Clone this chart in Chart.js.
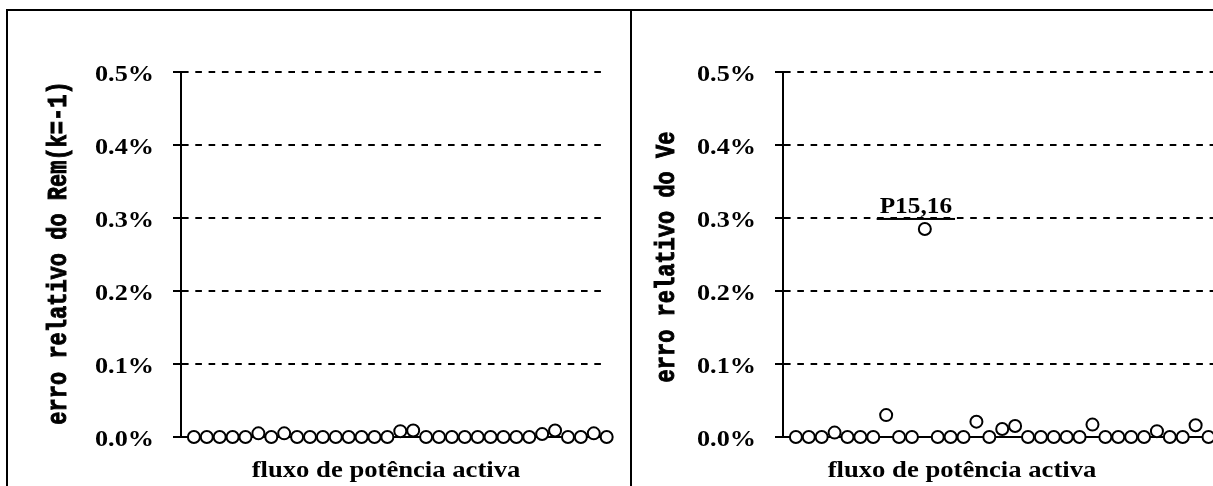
<!DOCTYPE html>
<html>
<head>
<meta charset="utf-8">
<script src="https://cdn.jsdelivr.net/npm/chart.js@4/dist/chart.umd.min.js"></script>
<style>
  html, body { margin: 0; padding: 0; background: #fff; overflow: hidden; }
  body { width: 1213px; height: 486px; position: relative; }
  #frame { position: absolute; left: 6px; top: 9px; width: 1400px; height: 600px; border: 2px solid #000; }
  #divider { position: absolute; left: 630px; top: 9px; width: 2px; height: 600px; background: #000; }
  .panel { position: absolute; top: 11px; height: 475px; }
  #panelRem { left: 8px; width: 622px; }
  #panelVe { left: 633px; width: 700px; }
</style>
</head>
<body>
<div id="frame"></div>
<div id="divider"></div>
<div class="panel" id="panelRem"><canvas id="chartRem"></canvas></div>
<div class="panel" id="panelVe"><canvas id="chartVe"></canvas></div>
<script>
// Branch (active power flow) positions along the x axis
const branchIndex = [1, 2, 3, 4, 5, 6, 7, 8, 9, 10, 11, 12, 13, 14, 15, 16, 17,
                     18, 19, 20, 21, 22, 23, 24, 25, 26, 27, 28, 29, 30, 31, 32, 33];

// Relative error (%) of Rem(k=-1) for each branch flow
const errRem = [0, 0, 0, 0, 0, 0.005, 0, 0.005, 0, 0, 0, 0, 0, 0, 0, 0, 0.008,
                0.009, 0, 0, 0, 0, 0, 0, 0, 0, 0, 0.004, 0.009, 0, 0, 0.005, 0];

// Relative error (%) of Ve for each branch flow
const errVe = [0, 0, 0, 0.006, 0, 0, 0, 0.030, 0, 0, 0.285, 0, 0, 0, 0.021, 0, 0.011,
               0.015, 0, 0, 0, 0, 0, 0.017, 0, 0, 0, 0, 0.008, 0, 0, 0.016, 0];

// Y axis ticks (%)
const yTicks = [0.0, 0.1, 0.2, 0.3, 0.4, 0.5];
const yTickLabels = ['0.0%', '0.1%', '0.2%', '0.3%', '0.4%', '0.5%'];

const xTitle = 'fluxo de potência activa';
const yTitleRem = 'erro relativo do Rem(k=-1)';
const yTitleVe = 'erro relativo do Ve';

// Callout on the outlying Ve point
const calloutText = 'P15,16';
const calloutIndex = 10;

const serifBold = 'bold 23px "Liberation Serif"';
const monoBold = 'bold 22px "Liberation Mono"';

// Draws text with a horizontal stretch factor sx and a vertical one sy
function stretchedText(ctx, text, x, y, sx, sy, strokeW) {
  ctx.save();
  ctx.translate(x, y);
  ctx.scale(sx, sy);
  ctx.fillText(text, 0, 0);
  if (strokeW) {
    ctx.lineWidth = strokeW;
    ctx.strokeStyle = '#000';
    ctx.strokeText(text, 0, 0);
  }
  ctx.restore();
}

// Axis captions and y tick labels in a wide bold serif
const captions = {
  id: 'captions',
  afterDraw(chart, args, opts) {
    const ctx = chart.ctx;
    const yScale = chart.scales.y;
    ctx.save();
    ctx.fillStyle = '#000';

    // tick labels, placed through the y scale
    ctx.font = serifBold;
    ctx.textAlign = 'right';
    ctx.textBaseline = 'alphabetic';
    const labelRight = chart.chartArea.left - 27;
    yScale.ticks.forEach((t, i) => {
      const py = yScale.getPixelForTick(i);
      stretchedText(ctx, yTickLabels[yTicks.indexOf(t.value)], labelRight, py + 9, 1.14, 1, 0);
    });

    // x caption
    ctx.font = opts.xFont;
    ctx.textAlign = 'center';
    stretchedText(ctx, opts.xText, opts.xPos[0], opts.xPos[1], 1.11, 1, 0);

    // y caption
    ctx.textBaseline = 'middle';
    ctx.translate(opts.yPos[0], opts.yPos[1]);
    ctx.rotate(-Math.PI / 2);
    ctx.font = opts.yFont;
    stretchedText(ctx, opts.yText, 0, 0, 1, 1.25, 0.8);
    ctx.restore();
  }
};

const callout = {
  id: 'callout',
  afterDatasetsDraw(chart, args, opts) {
    if (!opts.text) return;
    const pt = chart.getDatasetMeta(0).data[opts.index];
    const ctx = chart.ctx;
    ctx.save();
    ctx.fillStyle = '#000';
    ctx.font = opts.font;
    ctx.textAlign = 'center';
    ctx.textBaseline = 'alphabetic';
    const tx = pt.x - 9;
    const ty = pt.y - 16;
    const sx = 1.1;
    stretchedText(ctx, opts.text, tx, ty, sx, 1, 0);
    const w = ctx.measureText(opts.text).width * sx;
    ctx.fillRect(tx - w / 2 - 3, ty + 5, w + 6, 2);
    ctx.restore();
  }
};

function buildChart(canvasId, values, yTitle, cfg) {
  const points = branchIndex.map((x, i) => ({ x: x, y: values[i] }));
  return new Chart(document.getElementById(canvasId), {
    type: 'scatter',
    data: {
      datasets: [{
        data: points,
        showLine: false,
        clip: false,
        pointStyle: 'circle',
        pointRadius: 6,
        pointHoverRadius: 6,
        pointBorderWidth: 2,
        pointBorderColor: '#000',
        pointBackgroundColor: '#fff'
      }]
    },
    options: {
      responsive: true,
      maintainAspectRatio: false,
      animation: false,
      events: [],
      layout: { padding: { top: 61, bottom: 49, left: 0, right: cfg.padRight } },
      scales: {
        x: {
          type: 'linear',
          min: 0,
          max: cfg.xMax,
          ticks: { display: false },
          grid: { display: false, drawTicks: false },
          border: { display: true, color: '#000', width: 2 },
          afterFit(scale) { scale.height = 0; }
        },
        y: {
          min: 0,
          max: 0.5,
          afterBuildTicks(scale) { scale.ticks = yTicks.map(v => ({ value: v })); },
          ticks: { display: false },
          grid: {
            color: '#000',
            lineWidth: 2,
            tickLength: 8,
            tickColor: '#000',
            tickWidth: 2,
            tickBorderDash: []
          },
          border: { display: true, color: '#000', width: 2, dash: [6.6, 6.7] },
          afterFit(scale) { scale.width = cfg.yWidth; }
        }
      },
      plugins: {
        legend: { display: false },
        tooltip: { enabled: false },
        captions: {
          xText: xTitle, xFont: 'bold 24px "Liberation Serif"', xPos: cfg.xTitlePos,
          yText: yTitle, yFont: monoBold, yPos: cfg.yTitlePos
        },
        callout: cfg.callout || {}
      }
    },
    plugins: [captions, callout]
  });
}

buildChart('chartRem', errRem, yTitleRem, {
  yWidth: 173, padRight: 25, xMax: 32.87,
  xTitlePos: [378, 466], yTitlePos: [51, 242]
});

buildChart('chartVe', errVe, yTitleVe, {
  yWidth: 150, padRight: 60, xMax: 38,
  xTitlePos: [329, 466], yTitlePos: [34, 246],
  callout: { text: calloutText, index: calloutIndex, font: 'bold 23px "Liberation Serif"' }
});
</script>
</body>
</html>
